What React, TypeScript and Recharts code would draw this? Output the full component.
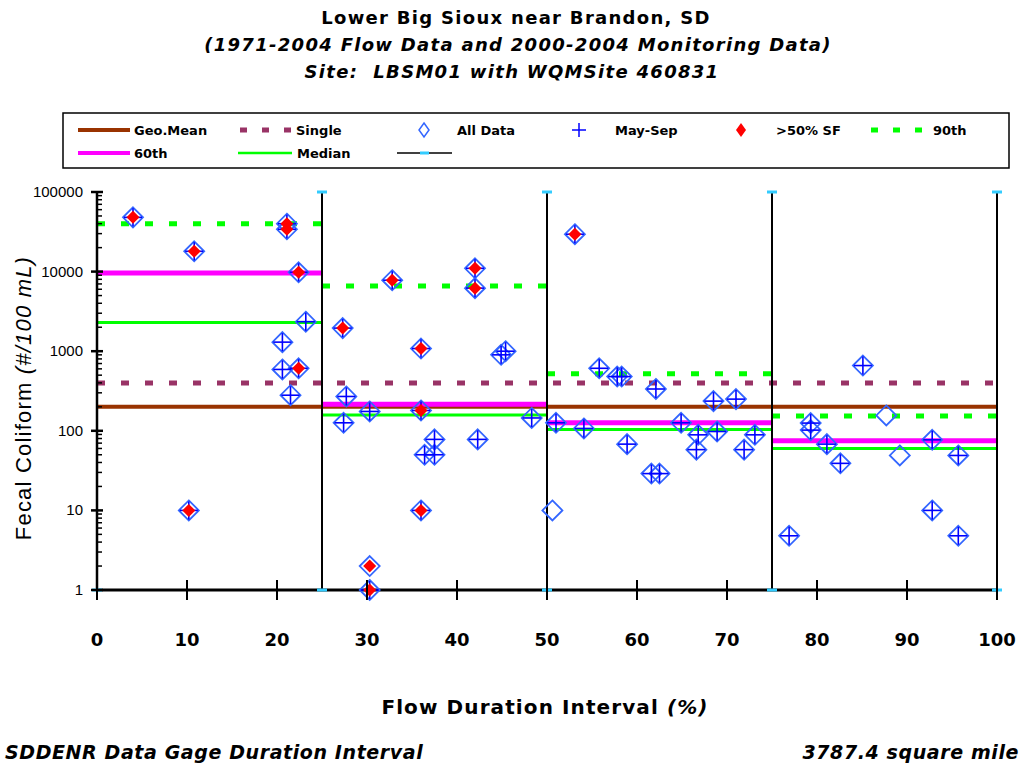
import React from 'react';
import { ComposedChart, XAxis, YAxis, Scatter, ReferenceLine } from 'recharts';

// ---- Data ----
const zoneEdges = [0, 25, 50, 75, 100];
const zoneP90 = [40000, 6600, 520, 153];
const zoneP60 = [9600, 215, 126, 75];
const zoneMedian = [2300, 158, 104, 60];
const geoMeanStd = 200;
const singleSampleStd = 400;
const xTicks = [0, 10, 20, 30, 40, 50, 60, 70, 80, 90, 100];
const yDecades = [1, 10, 100, 1000, 10000, 100000];

// samples that are >50% SF and in May-Sep
const sfMaySep = [
  { x: 4.0, y: 48000 }, { x: 10.8, y: 18000 }, { x: 21.1, y: 40000 }, { x: 21.1, y: 34000 },
  { x: 22.4, y: 9800 }, { x: 22.4, y: 610 }, { x: 10.2, y: 10 },
  { x: 27.3, y: 1950 }, { x: 32.8, y: 7800 }, { x: 42.0, y: 11000 }, { x: 42.0, y: 6200 },
  { x: 36.0, y: 1080 }, { x: 36.0, y: 180 }, { x: 36.0, y: 10 }, { x: 30.3, y: 1 },
  { x: 53.1, y: 29500 },
];
// >50% SF only
const sfOnly = [{ x: 30.3, y: 2 }];
// May-Sep only
const maySepOnly = [
  { x: 23.2, y: 2350 }, { x: 20.6, y: 1300 }, { x: 20.6, y: 590 }, { x: 21.5, y: 280 },
  { x: 44.9, y: 900 }, { x: 45.4, y: 1000 }, { x: 27.7, y: 270 }, { x: 27.4, y: 126 },
  { x: 30.3, y: 175 }, { x: 37.5, y: 78 }, { x: 36.4, y: 50 }, { x: 37.5, y: 50 },
  { x: 42.3, y: 78 }, { x: 48.3, y: 145 },
  { x: 55.8, y: 610 }, { x: 57.8, y: 480 }, { x: 58.3, y: 480 }, { x: 62.1, y: 335 },
  { x: 51.0, y: 126 }, { x: 54.1, y: 107 }, { x: 58.9, y: 68 }, { x: 61.6, y: 29 },
  { x: 62.5, y: 29 }, { x: 64.9, y: 126 }, { x: 68.5, y: 236 }, { x: 71.0, y: 250 },
  { x: 66.8, y: 89 }, { x: 66.6, y: 58 }, { x: 68.9, y: 98 }, { x: 71.9, y: 58 }, { x: 73.1, y: 89 },
  { x: 76.9, y: 4.8 }, { x: 79.3, y: 125 }, { x: 79.3, y: 102 }, { x: 81.1, y: 68 },
  { x: 82.6, y: 39 }, { x: 85.1, y: 660 }, { x: 92.8, y: 77 }, { x: 92.8, y: 10 },
  { x: 95.7, y: 49 }, { x: 95.7, y: 4.8 },
];
// other samples
const otherOnly = [{ x: 50.6, y: 10 }, { x: 87.7, y: 156 }, { x: 89.2, y: 49 }];

const allData = [...sfMaySep, ...sfOnly, ...maySepOnly, ...otherOnly];
const maySepData = [...sfMaySep, ...maySepOnly];
const sfData = [...sfMaySep, ...sfOnly];

const yMin = yDecades[0];
const yMax = yDecades[yDecades.length - 1];
const boundaryMarks = [
  { x: zoneEdges[0], y: yMin },
  ...zoneEdges.slice(1).flatMap((e) => [{ x: e, y: yMin }, { x: e, y: yMax }]),
];

const yTicks: number[] = [];
yDecades.forEach((d, i) => {
  if (i < yDecades.length - 1) for (let k = 1; k <= 9; k++) yTicks.push(d * k);
  else yTicks.push(d);
});

// ---- Colours ----
const C_GEO = '#993300';
const C_SINGLE = '#993366';
const C_P90 = '#00FF00';
const C_P60 = '#FF00FF';
const C_MED = '#00FF00';
const C_DIAM = '#3366FF';
const C_CROSS = '#0000FF';
const C_SF = '#FF0000';
const C_CYAN = '#33CCFF';

const FONT_T = '"DejaVu Sans", Verdana, sans-serif';
const FONT_A = '"Liberation Sans", Arial, sans-serif';

const DiamondOpen = (p: any) => {
  const { cx, cy } = p;
  if (cx == null || cy == null) return <g />;
  const r = 10;
  return (
    <path d={`M${cx},${cy - r}L${cx + r},${cy}L${cx},${cy + r}L${cx - r},${cy}Z`}
      fill="none" stroke={C_DIAM} strokeWidth={1.8} />
  );
};
const Cross = (p: any) => {
  const { cx, cy } = p;
  if (cx == null || cy == null) return <g />;
  const r = 9;
  return (
    <g stroke={C_CROSS} strokeWidth={1.6}>
      <line x1={cx - r} x2={cx + r} y1={cy} y2={cy} />
      <line x1={cx} x2={cx} y1={cy - r} y2={cy + r} />
    </g>
  );
};
const DiamondRed = (p: any) => {
  const { cx, cy } = p;
  if (cx == null || cy == null) return <g />;
  const r = 6.5;
  return <path d={`M${cx},${cy - r}L${cx + r},${cy}L${cx},${cy + r}L${cx - r},${cy}Z`} fill={C_SF} />;
};
const CyanMark = (p: any) => {
  const { cx, cy } = p;
  if (cx == null || cy == null) return <g />;
  return <rect x={cx - 5} y={cy - 1.5} width={10} height={3} fill={C_CYAN} />;
};

const XTick = (p: any) => {
  const { x, y, payload } = p;
  return (
    <g>
      <line x1={x} x2={x} y1={y - 10} y2={y + 10} stroke="#000" strokeWidth={2} />
      <text x={x} y={y + 56} textAnchor="middle" fontFamily={FONT_T} fontWeight="bold" fontSize={18} fill="#000">
        {payload.value}
      </text>
    </g>
  );
};
const YTick = (p: any) => {
  const { x, y, payload } = p;
  const v = payload.value;
  const major = yDecades.includes(v);
  return (
    <g>
      {major ? (
        <line x1={x - 6} x2={x + 6} y1={y} y2={y} stroke="#000" strokeWidth={2.5} />
      ) : (
        <line x1={x} x2={x + 5} y1={y} y2={y} stroke="#000" strokeWidth={1.5} />
      )}
      {major && (
        <text x={x - 14} y={y + 5} textAnchor="end" fontFamily={FONT_A} fontSize={15} fill="#000">
          {v}
        </text>
      )}
    </g>
  );
};

const LegendOverlay = () => {
  const r1 = 130;
  const r2 = 153;
  const ts: any = { fontFamily: FONT_T, fontWeight: 'bold', fontSize: 13, fill: '#000' };
  return (
    <g>
      <rect x={63} y={113} width={946} height={55} fill="none" stroke="#000" strokeWidth={1.5} />
      <line x1={78} x2={130} y1={r1} y2={r1} stroke={C_GEO} strokeWidth={4} />
      <text x={134} y={r1 + 5} {...ts}>Geo.Mean</text>
      <line x1={240} x2={292} y1={r1} y2={r1} stroke={C_SINGLE} strokeWidth={5} strokeDasharray="7 15" />
      <text x={296} y={r1 + 5} {...ts}>Single</text>
      <path d={`M424,${r1 - 7}L429,${r1}L424,${r1 + 7}L419,${r1}Z`} fill="none" stroke={C_DIAM} strokeWidth={1.5} />
      <text x={457} y={r1 + 5} {...ts}>All Data</text>
      <line x1={572} x2={586} y1={r1} y2={r1} stroke={C_CROSS} strokeWidth={1.5} />
      <line x1={579} x2={579} y1={r1 - 7} y2={r1 + 7} stroke={C_CROSS} strokeWidth={1.5} />
      <text x={615} y={r1 + 5} {...ts}>May-Sep</text>
      <path d={`M741,${r1 - 7}L746,${r1}L741,${r1 + 7}L736,${r1}Z`} fill={C_SF} />
      <text x={776} y={r1 + 5} {...ts}>&gt;50% SF</text>
      <line x1={871} x2={930} y1={r1} y2={r1} stroke={C_P90} strokeWidth={5} strokeDasharray="7 15" />
      <text x={933} y={r1 + 5} {...ts}>90th</text>
      <line x1={78} x2={130} y1={r2} y2={r2} stroke={C_P60} strokeWidth={4} />
      <text x={134} y={r2 + 5} {...ts}>60th</text>
      <line x1={238} x2={292} y1={r2} y2={r2} stroke={C_MED} strokeWidth={2.5} />
      <text x={297} y={r2 + 5} {...ts}>Median</text>
      <line x1={397} x2={452} y1={r2} y2={r2} stroke="#000" strokeWidth={1.5} />
      <rect x={420} y={r2 - 1.5} width={9} height={3} fill={C_CYAN} />
    </g>
  );
};

export default function App() {
  const W = 1021;
  const H = 767;
  return (
    <div style={{ position: 'absolute', left: 0, top: 0, width: W, height: H, background: '#fff' }}>
      <ComposedChart width={W} height={H} margin={{ top: 192, right: 24, bottom: 117, left: 37 }}>
        <XAxis type="number" dataKey="x" domain={[0, 100]} ticks={xTicks} interval={0}
          tickSize={0} tickMargin={0} tickLine={false} tick={<XTick />}
          axisLine={false} height={60} />
        <YAxis type="number" dataKey="y" scale="log" domain={[yMin, yMax]} ticks={yTicks} interval={0}
          tickSize={0} tickMargin={0} tickLine={false} tick={<YTick />}
          axisLine={{ stroke: '#000', strokeWidth: 2.5 }} width={60} />

        <ReferenceLine segment={[{ x: 0, y: geoMeanStd }, { x: 100, y: geoMeanStd }]} stroke={C_GEO} strokeWidth={4} ifOverflow="visible" />
        <ReferenceLine segment={[{ x: 0, y: singleSampleStd }, { x: 100, y: singleSampleStd }]} stroke={C_SINGLE} strokeWidth={5} strokeDasharray="8 16" ifOverflow="visible" />
        {zoneP90.map((v, i) => (
          <ReferenceLine key={`p90-${i}`} segment={[{ x: zoneEdges[i], y: v }, { x: zoneEdges[i + 1], y: v }]} stroke={C_P90} strokeWidth={5} strokeDasharray="8 16" ifOverflow="visible" />
        ))}
        {zoneP60.map((v, i) => (
          <ReferenceLine key={`p60-${i}`} segment={[{ x: zoneEdges[i], y: v }, { x: zoneEdges[i + 1], y: v }]} stroke={C_P60} strokeWidth={5} ifOverflow="visible" />
        ))}
        {zoneMedian.map((v, i) => (
          <ReferenceLine key={`med-${i}`} segment={[{ x: zoneEdges[i], y: v }, { x: zoneEdges[i + 1], y: v }]} stroke={C_MED} strokeWidth={3} ifOverflow="visible" />
        ))}
        {zoneEdges.slice(1).map((e) => (
          <ReferenceLine key={`b-${e}`} segment={[{ x: e, y: yMin }, { x: e, y: yMax }]} stroke="#000" strokeWidth={2} ifOverflow="visible" />
        ))}
        {/* x axis baseline drawn beneath markers */}
        <ReferenceLine segment={[{ x: zoneEdges[0], y: yMin }, { x: zoneEdges[zoneEdges.length - 1], y: yMin }]} stroke="#000" strokeWidth={3} ifOverflow="visible" />

        <Scatter name="All Data" data={allData} isAnimationActive={false} shape={<DiamondOpen />} />
        <Scatter name="May-Sep" data={maySepData} isAnimationActive={false} shape={<Cross />} />
        <Scatter name=">50% SF" data={sfData} isAnimationActive={false} shape={<DiamondRed />} />
        <Scatter name="bounds" data={boundaryMarks} isAnimationActive={false} shape={<CyanMark />} />
      </ComposedChart>

      <svg width={W} height={H} style={{ position: 'absolute', left: 0, top: 0, pointerEvents: 'none' }}>
        <g fontFamily={FONT_T} fontWeight="bold" fontSize={18} fill="#000" textAnchor="middle" letterSpacing={1.3}>
          <text x={516} y={24}>Lower Big Sioux near Brandon, SD</text>
          <text x={518} y={51} fontStyle="italic">(1971-2004 Flow Data and 2000-2004 Monitoring Data)</text>
          <text x={512} y={78} fontStyle="italic">Site:{'\u00a0\u00a0'}LBSM01 with WQMSite 460831</text>
        </g>
        <LegendOverlay />
        <text x={545} y={714} textAnchor="middle" fontFamily={FONT_T} fontWeight="bold" fontSize={20} letterSpacing={1.1} fill="#000">
          Flow Duration Interval <tspan fontStyle="italic">(%)</tspan>
        </text>
        <text transform="translate(31,398) rotate(-90)" textAnchor="middle" fontFamily={FONT_A} fontSize={22} letterSpacing={1.2} fill="#000">
          Fecal Coliform <tspan fontStyle="italic">(#/100 mL)</tspan>
        </text>
        <text x={5} y={759} fontFamily={FONT_T} fontWeight="bold" fontStyle="italic" fontSize={19} letterSpacing={0.6} fill="#000">
          SDDENR Data Gage Duration Interval
        </text>
        <text x={1019} y={759} textAnchor="end" fontFamily={FONT_T} fontWeight="bold" fontStyle="italic" fontSize={19} letterSpacing={0.6} fill="#000">
          3787.4 square mile
        </text>
      </svg>
    </div>
  );
}
